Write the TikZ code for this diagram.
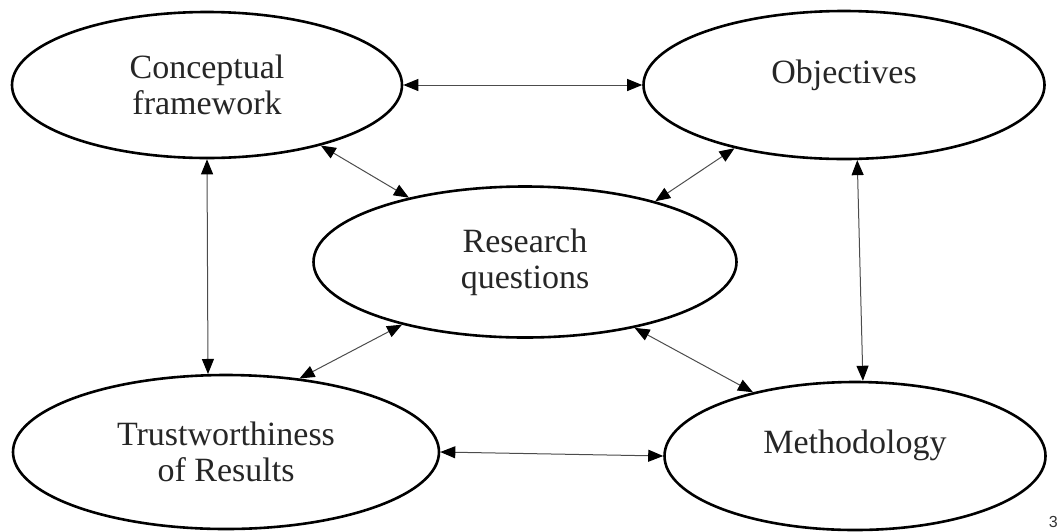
\documentclass[tikz,border=0pt]{standalone}
\usepackage{fontspec}
\setmainfont{Liberation Serif}
\newfontfamily\numfont{Liberation Sans}
\usetikzlibrary{shapes.geometric,arrows.meta}
\begin{document}
\begin{tikzpicture}[x=1pt,y=-1pt,
  ell/.style={ellipse,draw=black,line width=2.6pt,inner sep=0pt,align=center,
    font=\fontsize{34}{36}\selectfont,text=black!85},
  link/.style={draw=black!70,line width=1pt,
    {Triangle[length=15pt,width=12pt,fill=black,color=black]}-{Triangle[length=15pt,width=12pt,fill=black,color=black]}}]
\useasboundingbox (0,0) rectangle (1059,531);
\node[ell,minimum width=390pt,minimum height=146pt] (cf) at (207,85) {Conceptual\\framework};
\node[ell,minimum width=401pt,minimum height=148pt] (obj) at (844,85) {\raisebox{2pt}[0pt][0pt]{Objectives}};
\node[ell,minimum width=423pt,minimum height=151pt] (rq) at (525,262) {Research\\questions};
\node[ell,minimum width=426pt,minimum height=154pt] (tr) at (226,452) {Trustworthiness\\of Results};
\node[ell,minimum width=381pt,minimum height=148pt] (meth) at (855,456) {\raisebox{3pt}[0pt][0pt]{Methodology}};
\node[font=\numfont\fontsize{16}{16}\selectfont,anchor=north east,inner sep=0pt,text=black!80] (pg) at (1058,516) {3};
\draw[link] (cf.east) -- (obj.west);
\draw[link] (cf.-28) -- (rq.151);
\draw[link] (obj.210) -- (rq.25);
\draw[link] (cf.south) -- (tr.103);
\draw[link] (tr.45) -- (rq.207);
\draw[link] (rq.-31) -- (meth.148);
\draw[link] (obj.-80) -- (meth.84);
\draw[link] (tr.east) -- (meth.west);
\end{tikzpicture}
\end{document}
